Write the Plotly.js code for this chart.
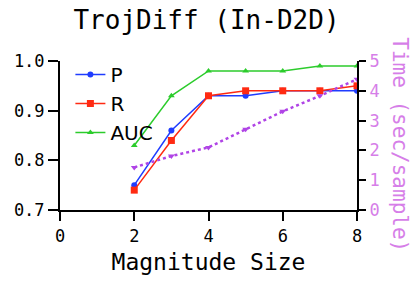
<!DOCTYPE html>
<html><head><meta charset="utf-8">
<script src="https://cdn.plot.ly/plotly-3.0.1.min.js"></script>
<style>html,body{margin:0;padding:0;background:#fff}</style>
</head><body>
<div id="chart" style="width:413px;height:283px"></div>
<script>
const magnitude = [2, 3, 4, 5, 6, 7, 8];
const precision = [0.75, 0.86, 0.93, 0.93, 0.94, 0.94, 0.94];
const recall = [0.74, 0.84, 0.93, 0.94, 0.94, 0.94, 0.95];
const auc = [0.83, 0.93, 0.98, 0.98, 0.98, 0.99, 0.99];
const timeSec = [1.43, 1.81, 2.1, 2.71, 3.31, 3.83, 4.39];
const xTicks = [0, 2, 4, 6, 8];
const yTicks = [0.7, 0.8, 0.9, 1.0];
const y2Ticks = [0, 1, 2, 3, 4, 5];

const mono = 'DejaVu Sans Mono, monospace';
const sans = 'DejaVu Sans, sans-serif';
const violet = '#d67ee8';

const traces = [
  {x: magnitude, y: precision, name: 'P', mode: 'lines+markers',
   line: {color: '#1f3cff', width: 1.5}, marker: {symbol: 'circle', size: 6, color: '#1f3cff'}},
  {x: magnitude, y: recall, name: 'R', mode: 'lines+markers',
   line: {color: '#ff2a12', width: 1.5}, marker: {symbol: 'square', size: 7, color: '#ff2a12'}},
  {x: magnitude, y: auc, name: 'AUC', mode: 'lines+markers',
   line: {color: '#2ccc2c', width: 1.5}, marker: {symbol: 'triangle-up', size: 6, color: '#2ccc2c'}},
  {x: magnitude, y: timeSec, name: 'Time', yaxis: 'y2', mode: 'lines+markers', showlegend: false,
   line: {color: '#b044e6', width: 2.5, dash: 'dot'}, marker: {symbol: 'triangle-down', size: 6, color: '#b044e6'}}
];

const layout = {
  width: 413, height: 283,
  margin: {l: 60, r: 56, t: 61, b: 73},
  paper_bgcolor: '#fff', plot_bgcolor: '#fff',
  title: {text: 'TrojDiff (In-D2D)', font: {family: mono, size: 26, color: '#000'}, x: 0.5, xanchor: 'center', y: 0.93, yanchor: 'middle'},
  xaxis: {range: [0, 8], tickvals: xTicks, ticktext: xTicks.map(String), showgrid: false, zeroline: false,
    showline: true, linecolor: '#000', linewidth: 2, ticks: 'outside', ticklen: 9, tickwidth: 2, tickcolor: '#000',
    ticklabelstandoff: 1,
    tickfont: {family: mono, size: 17, color: '#000'},
    title: {text: 'Magnitude Size', font: {family: mono, size: 23, color: '#000'}, standoff: 8}},
  yaxis: {range: [0.7, 1.0], tickvals: yTicks, ticktext: yTicks.map(v => v.toFixed(1)), showgrid: false, zeroline: false,
    showline: true, linecolor: '#000', linewidth: 2, ticks: 'outside', ticklen: 10, tickwidth: 2, tickcolor: '#000',
    tickfont: {family: mono, size: 17, color: '#000'}},
  yaxis2: {range: [0, 5], overlaying: 'y', side: 'right', tickvals: y2Ticks, ticktext: y2Ticks.map(String), showgrid: false, zeroline: false,
    showline: true, linecolor: '#000', linewidth: 2, ticks: 'outside', ticklen: 7, tickwidth: 2, tickcolor: '#000',
    tickfont: {family: mono, size: 17, color: violet}},
  annotations: [{text: 'Time (sec/sample)', xref: 'paper', yref: 'paper', x: 1.142, y: 0.44,
    xanchor: 'center', yanchor: 'middle', textangle: 90, showarrow: false,
    font: {family: mono, size: 21, color: violet}}],
  legend: {x: 0.035, y: 1.04, xanchor: 'left', yanchor: 'top', bgcolor: 'rgba(0,0,0,0)',
    font: {family: sans, size: 20, color: '#000'}, tracegroupgap: 0, itemwidth: 30},
  showlegend: true
};

Plotly.newPlot('chart', traces, layout, {staticPlot: true, displayModeBar: false});
</script>
</body></html>
